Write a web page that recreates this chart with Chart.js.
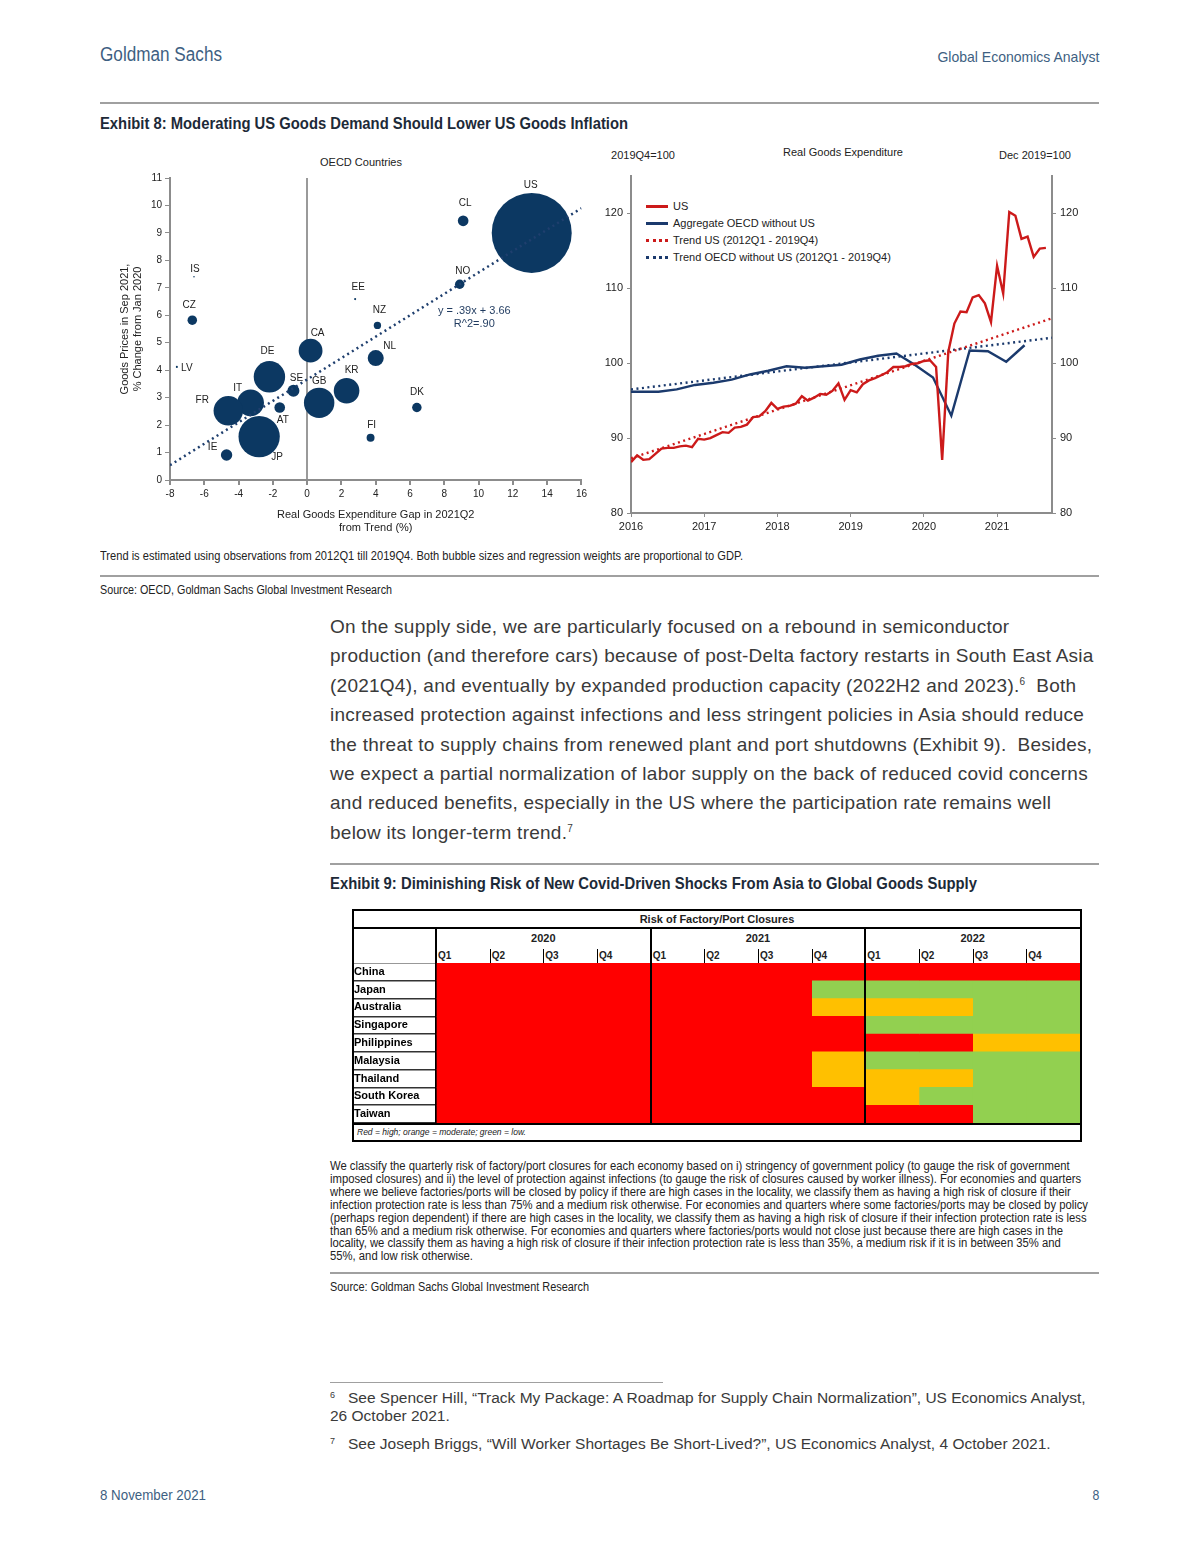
<!DOCTYPE html>
<html>
<head>
<meta charset="utf-8">
<script src="https://cdn.jsdelivr.net/npm/chart.js@4.4.1/dist/chart.umd.min.js"></script>
<style>
  body { margin: 0; background: #fff; font-family: "Liberation Sans", Arial, sans-serif; color: #222; }
  #page { position: relative; width: 1200px; height: 1555px; overflow: hidden; }
  .abs { position: absolute; white-space: nowrap; }
  .hr { position: absolute; height: 0; border-top: 2px solid #a0a0a0; }
  .body-text { font-size: 19px; letter-spacing: 0.25px; color: #3a3a3a; line-height: 29.4px; }
  .body-text sup { font-size: 10px; vertical-align: 7px; line-height: 0; }
  .note { font-size: 12.5px; line-height: 12.9px; color: #222; }
  .foot { font-size: 15.5px; color: #3a3a3a; line-height: 18px; }
  .foot sup { font-size: 9px; vertical-align: 5px; line-height: 0; }
  canvas { position: absolute; }
  .tbl-line { position: absolute; background: #000; }
</style>
</head>
<body>
<div id="page">
  <div class="abs" data-fit="122" style="left:100px;top:43px;font-size:20px;color:#3e5f82;">Goldman Sachs</div>
  <div class="abs" data-fit="162" data-origin="right" style="right:101px;top:48px;font-size:15px;color:#3e5f82;">Global Economics Analyst</div>
  <div class="hr" style="left:100px;top:102px;width:999px;"></div>
  <div class="abs" data-fit="528" style="left:100px;top:114px;font-size:17px;font-weight:bold;color:#1d2a38;">Exhibit 8: Moderating US Goods Demand Should Lower US Goods Inflation</div>

  <div class="abs" style="left:311px;top:156px;width:100px;text-align:center;font-size:11px;">OECD Countries</div>
  <div class="abs" style="left:593px;top:149px;width:100px;text-align:center;font-size:11px;">2019Q4=100</div>
  <div class="abs" style="left:743px;top:146px;width:200px;text-align:center;font-size:11px;">Real Goods Expenditure</div>
  <div class="abs" style="left:985px;top:149px;width:100px;text-align:center;font-size:11px;">Dec 2019=100</div>
  <div id="lineLegend"></div>

  <canvas id="bubbleChart" width="490" height="395" style="left:100px;top:140px;"></canvas>
  <canvas id="lineChart" width="500" height="397" style="left:590px;top:140px;"></canvas>

  <div class="abs" data-fit="643" style="left:100px;top:549px;font-size:12.5px;">Trend is estimated using observations from 2012Q1 till 2019Q4. Both bubble sizes and regression weights are proportional to GDP.</div>
  <div class="hr" style="left:100px;top:575px;width:999px;"></div>
  <div class="abs" data-fit="292" style="left:100px;top:583px;font-size:12.5px;">Source: OECD, Goldman Sachs Global Investment Research</div>

  <div class="abs body-text" style="left:330px;top:612px;">
    On the supply side, we are particularly focused on a rebound in semiconductor<br>
    production (and therefore cars) because of post-Delta factory restarts in South East Asia<br>
    (2021Q4), and eventually by expanded production capacity (2022H2 and 2023).<sup>6</sup>&nbsp; Both<br>
    increased protection against infections and less stringent policies in Asia should reduce<br>
    the threat to supply chains from renewed plant and port shutdowns (Exhibit 9).&nbsp; Besides,<br>
    we expect a partial normalization of labor supply on the back of reduced covid concerns<br>
    and reduced benefits, especially in the US where the participation rate remains well<br>
    below its longer-term trend.<sup>7</sup>
  </div>
  <div class="hr" style="left:330px;top:863px;width:769px;"></div>
  <div class="abs" data-fit="647" style="left:330px;top:874px;font-size:17px;font-weight:bold;color:#1d2a38;">Exhibit 9: Diminishing Risk of New Covid-Driven Shocks From Asia to Global Goods Supply</div>

  <div id="table" style="position:absolute;left:352px;top:909px;width:730px;height:233px;box-sizing:border-box;border:2px solid #000;"></div>
  <canvas id="riskChart" width="726" height="160" style="left:354px;top:963px;"></canvas>

  <div class="abs note" data-fit="758" style="left:330px;top:1160px;">
    We classify the quarterly risk of factory/port closures for each economy based on i) stringency of government policy (to gauge the risk of government<br>
    imposed closures) and ii) the level of protection against infections (to gauge the risk of closures caused by worker illness). For economies and quarters<br>
    where we believe factories/ports will be closed by policy if there are high cases in the locality, we classify them as having a high risk of closure if their<br>
    infection protection rate is less than 75% and a medium risk otherwise. For economies and quarters where some factories/ports may be closed by policy<br>
    (perhaps region dependent) if there are high cases in the locality, we classify them as having a high risk of closure if their infection protection rate is less<br>
    than 65% and a medium risk otherwise. For economies and quarters where factories/ports would not close just because there are high cases in the<br>
    locality, we classify them as having a high risk of closure if their infection protection rate is less than 35%, a medium risk if it is in between 35% and<br>
    55%, and low risk otherwise.
  </div>
  <div class="hr" style="left:330px;top:1272px;width:769px;"></div>
  <div class="abs" data-fit="259" style="left:330px;top:1280px;font-size:12.5px;">Source: Goldman Sachs Global Investment Research</div>

  <div class="hr" style="left:330px;top:1382px;width:333px;border-top-width:1px;"></div>
  <div class="abs foot" style="left:330px;top:1389px;"><sup>6</sup>&nbsp;&nbsp; See Spencer Hill, “Track My Package: A Roadmap for Supply Chain Normalization”, US Economics Analyst,<br>26 October 2021.</div>
  <div class="abs foot" style="left:330px;top:1435px;"><sup>7</sup>&nbsp;&nbsp; See Joseph Briggs, “Will Worker Shortages Be Short-Lived?”, US Economics Analyst, 4 October 2021.</div>

  <div class="abs" data-fit="106" style="left:100px;top:1486px;font-size:15px;color:#3e5f82;">8 November 2021</div>
  <div class="abs" style="right:101px;top:1486px;font-size:15px;color:#3e5f82;transform:scaleX(0.82);transform-origin:right center;">8</div>
</div>

<script>
// condensed house font: squeeze Arial to the widths of the original lines
document.querySelectorAll('[data-fit]').forEach(el => {
  const target = parseFloat(el.dataset.fit);
  const natural = el.getBoundingClientRect().width;
  el.style.transformOrigin = (el.dataset.origin || 'left') + ' center';
  el.style.transform = 'scaleX(' + (target / natural).toFixed(4) + ')';
});

// ---- Exhibit 8, left: OECD bubble chart ----
const bubbleCountries = ['US', 'CL', 'NO', 'EE', 'NZ', 'NL', 'CA', 'DE', 'SE', 'GB', 'KR', 'IT', 'FR', 'AT', 'JP', 'IE', 'FI', 'DK', 'CZ', 'IS', 'LV'];
const expenditureGap = [13.1, 9.1, 8.9, 2.8, 4.1, 4.0, 0.2, -2.2, -0.8, 0.7, 2.3, -3.3, -4.6, -1.6, -2.8, -4.7, 3.7, 6.4, -6.7, -6.6, -7.6];
const goodsPriceChange = [9.0, 9.44, 7.13, 6.59, 5.63, 4.44, 4.71, 3.76, 3.25, 2.81, 3.25, 2.81, 2.52, 2.64, 1.58, 0.91, 1.54, 2.64, 5.82, 7.4, 4.12];
const gdpWeight = [21.4, 0.38, 0.30, 0.015, 0.18, 0.86, 1.9, 3.3, 0.48, 3.1, 2.2, 2.4, 2.9, 0.38, 5.7, 0.43, 0.21, 0.30, 0.30, 0.008, 0.015];
const regressionLine = [[-8, 0.54], [16, 9.9]];

// ---- Exhibit 8, right: real goods expenditure ----
const usStart = 2016;   // monthly, Jan 2016 - Sep 2021
const usGoods = [86.8, 87.7, 87.1, 87.2, 87.9, 88.6, 88.7, 88.7, 88.9, 89.0, 88.8, 89.9,
                 89.8, 90.0, 90.4, 90.8, 90.7, 91.4, 91.5, 91.8, 92.8, 92.9, 93.6, 94.7,
                 93.9, 94.2, 94.3, 94.6, 95.6, 95.0, 95.4, 95.9, 95.8, 96.3, 97.3, 95.1,
                 96.4, 96.1, 97.2, 97.7, 98.0, 98.4, 98.8, 99.5, 99.5, 99.6, 99.9, 100.0,
                 100.3, 100.4, 99.5, 87.1, 101.5, 105.3, 106.9, 106.8, 108.8, 109.1, 108.0, 105.5,
                 113.0, 109.3, 120.2, 119.7, 116.6, 116.9, 114.2, 115.3, 115.4];
const oecdQuarters = ['2015Q4', '2016Q1', '2016Q2', '2016Q3', '2016Q4', '2017Q1', '2017Q2', '2017Q3', '2017Q4',
                      '2018Q1', '2018Q2', '2018Q3', '2018Q4', '2019Q1', '2019Q2', '2019Q3', '2019Q4',
                      '2020Q1', '2020Q2', '2020Q3', '2020Q4', '2021Q1', '2021Q2'];
const oecdGoods = [96.2, 96.2, 96.2, 96.5, 97.1, 97.4, 97.8, 98.5, 99.0, 99.6, 99.4, 99.6, 99.8,
                   100.5, 101.0, 101.3, 99.8, 98.1, 93.0, 101.7, 101.6, 100.2, 102.4];
const trendUS = [[2016, 87.3], [2021.75, 106.0]];
const trendOECD = [[2016, 96.5], [2021.75, 103.4]];
const yearTicks = [2016, 2017, 2018, 2019, 2020, 2021];
const indexTicks = [80, 90, 100, 110, 120];
const lineLabels = ['US', 'Aggregate OECD without US', 'Trend US (2012Q1 - 2019Q4)', 'Trend OECD without US (2012Q1 - 2019Q4)'];

// ---- Exhibit 9: risk of factory/port closures ----
const riskCountries = ['China', 'Japan', 'Australia', 'Singapore', 'Philippines', 'Malaysia', 'Thailand', 'South Korea', 'Taiwan'];
const riskYears = ['2020', '2021', '2022'];
const riskQuarters = ['Q1', 'Q2', 'Q3', 'Q4'];
// H = high, M = moderate, L = low; 2020Q1 .. 2022Q4
const riskLevels = [
  'HHHH HHHH HHHH',
  'HHHH HHHL LLLL',
  'HHHH HHHM MMLL',
  'HHHH HHHH LLLL',
  'HHHH HHHH HHMM',
  'HHHH HHHM LLLL',
  'HHHH HHHM MMLL',
  'HHHH HHHH MLLL',
  'HHHH HHHH HHLL'
];
const riskColors = { H: '#ff0000', M: '#ffc000', L: '#92d050' };

const NAVY = '#0c3862';
const RED = '#cc1a1a';
const BLUE = '#1b3a6d';
const AXIS = '#8c8c8c';

// bubble labels: offset of the label centre from the bubble centre, px
const labelOffsets = {
  US: [-1, -48], CL: [2, -18], NO: [3, -13], EE: [3, -12], NZ: [2, -15], NL: [14, -12], CA: [7, -17],
  DE: [-2, -26], SE: [3, -13], GB: [0, -22], KR: [5, -21], IT: [-13, -15], FR: [-26, -11], AT: [3, 13],
  JP: [18, 21], IE: [-14, -8], FI: [1, -12], DK: [0, -15], CZ: [-3, -15], IS: [1, -8], LV: [10, 1]
};

const bubbleLabels = {
  id: 'bubbleLabels',
  afterDatasetsDraw(chart) {
    const ctx = chart.ctx;
    const meta = chart.getDatasetMeta(0);
    ctx.save();
    ctx.font = '10px "Liberation Sans", Arial, sans-serif';
    ctx.fillStyle = '#222';
    ctx.textAlign = 'center';
    ctx.textBaseline = 'middle';
    meta.data.forEach((el, i) => {
      const off = labelOffsets[bubbleCountries[i]] || [0, -12];
      ctx.fillText(bubbleCountries[i], el.x + off[0], el.y + off[1]);
    });
    // regression equation
    const xs = chart.scales.x, ys = chart.scales.y;
    ctx.fillStyle = '#1f3a5f';
    ctx.font = '11px "Liberation Sans", Arial, sans-serif';
    ctx.fillText('y = .39x + 3.66', xs.getPixelForValue(9.75), ys.getPixelForValue(6.16));
    ctx.fillText('R^2=.90', xs.getPixelForValue(9.75), ys.getPixelForValue(5.7));
    ctx.restore();
  }
};

new Chart(document.getElementById('bubbleChart'), {
  type: 'bubble',
  data: {
    datasets: [{
      label: 'OECD',
      data: bubbleCountries.map((c, i) => ({ x: expenditureGap[i], y: goodsPriceChange[i], r: 40 * Math.sqrt(gdpWeight[i] / 21.4) })),
      backgroundColor: NAVY,
      borderWidth: 0,
      order: 2
    }, {
      type: 'line',
      label: 'Regression',
      data: regressionLine.map(p => ({ x: p[0], y: p[1] })),
      borderColor: '#1f3f6e',
      borderWidth: 2.5,
      borderDash: [2, 3.5],
      pointRadius: 0,
      fill: false,
      order: 1
    }]
  },
  options: {
    responsive: false,
    animation: false,
    layout: { autoPadding: false, padding: { top: 38, right: 7 } },
    plugins: { legend: { display: false }, tooltip: { enabled: false } },
    scales: {
      x: {
        type: 'linear', min: -8, max: 16,
        ticks: { stepSize: 2, color: '#222', font: { size: 10 }, padding: 3 },
        grid: {
          color: c => (c.tick && c.tick.value === 0 ? '#9a9a9a' : 'transparent'),
          lineWidth: 2, tickColor: AXIS, tickLength: 5
        },
        border: { color: AXIS, width: 2 },
        title: { display: true, text: ['Real Goods Expenditure Gap in 2021Q2', 'from Trend (%)'], color: '#222', font: { size: 11 }, padding: { top: 1, bottom: 0 } },
        afterFit: s => { s.height = 55; }
      },
      y: {
        type: 'linear', min: 0, max: 11,
        ticks: { stepSize: 1, color: '#222', font: { size: 10 }, padding: 3 },
        grid: { drawOnChartArea: false, tickColor: AXIS, tickLength: 5 },
        border: { color: AXIS, width: 2 },
        title: { display: true, text: ['Goods Prices in Sep 2021,', '% Change from Jan 2020'], color: '#222', font: { size: 11 }, padding: { top: 18, bottom: 2 } },
        afterFit: s => { s.width = 70; }
      }
    }
  },
  plugins: [bubbleLabels]
});

// ---- line chart ----
const usPoints = usGoods.map((v, i) => ({ x: usStart + i / 12, y: v }));
const oecdPoints = oecdQuarters.map((q, i) => {
  const yr = parseInt(q.slice(0, 4), 10), qn = parseInt(q.slice(5), 10);
  return { x: yr + (qn - 1) * 0.25 + 0.125, y: oecdGoods[i] };
});
const setTicks = vals => s => { s.ticks = vals.map(v => ({ value: v })); };

new Chart(document.getElementById('lineChart'), {
  type: 'line',
  data: {
    datasets: [
      { label: lineLabels[0], data: usPoints, borderColor: RED, borderWidth: 2.4, pointRadius: 0, tension: 0 },
      { label: lineLabels[1], data: oecdPoints, borderColor: BLUE, borderWidth: 2.4, pointRadius: 0, tension: 0 },
      { label: lineLabels[2], data: trendUS.map(p => ({ x: p[0], y: p[1] })), borderColor: RED, borderWidth: 2.4, borderDash: [2, 3.5], pointRadius: 0 },
      { label: lineLabels[3], data: trendOECD.map(p => ({ x: p[0], y: p[1] })), borderColor: BLUE, borderWidth: 2.4, borderDash: [2, 3.5], pointRadius: 0 }
    ]
  },
  options: {
    responsive: false,
    animation: false,
    layout: { autoPadding: false, padding: { top: 36 } },
    plugins: { legend: { display: false }, tooltip: { enabled: false } },
    scales: {
      x: {
        type: 'linear', min: 2016, max: 2021.75,
        afterBuildTicks: setTicks(yearTicks),
        ticks: { color: '#222', font: { size: 11 }, padding: 3, autoSkip: false, callback: v => String(v) },
        grid: { drawOnChartArea: false, tickColor: AXIS, tickLength: 4 },
        border: { color: AXIS, width: 2 },
        afterFit: s => { s.height = 24; }
      },
      y: {
        type: 'linear', min: 80, max: 125, position: 'left',
        afterBuildTicks: setTicks(indexTicks),
        ticks: { color: '#222', font: { size: 11 }, padding: 4 },
        grid: { drawOnChartArea: false, tickColor: AXIS, tickLength: 4 },
        border: { color: AXIS, width: 2 },
        afterFit: s => { s.width = 41; }
      },
      y2: {
        type: 'linear', min: 80, max: 125, position: 'right',
        afterBuildTicks: setTicks(indexTicks),
        ticks: { color: '#222', font: { size: 11 }, padding: 4 },
        grid: { drawOnChartArea: false, tickColor: AXIS, tickLength: 4 },
        border: { color: AXIS, width: 2 },
        afterFit: s => { s.width = 38; }
      }
    }
  }
});

// line chart legend, inside the plot area
const legendBox = document.getElementById('lineLegend');
const legendStyles = [[RED, 'solid'], [BLUE, 'solid'], [RED, 'dotted'], [BLUE, 'dotted']];
lineLabels.forEach((txt, i) => {
  const y = 206 + i * 17;
  const sw = document.createElement('div');
  sw.style.cssText = `position:absolute;left:646px;top:${y - 1.5}px;width:22px;height:0;border-top:3px ${legendStyles[i][1]} ${legendStyles[i][0]};`;
  legendBox.appendChild(sw);
  const tx = document.createElement('div');
  tx.className = 'abs';
  tx.style.cssText += `left:673px;top:${y - 7}px;font-size:11px;line-height:14px;color:#222;`;
  tx.textContent = txt;
  legendBox.appendChild(tx);
});

// ---- Exhibit 9 table frame (header + key) ----
const tbl = document.getElementById('table');
const colLeft = 436 - 354, colW = 644 / 12;   // inside-border coordinates
function add(css, text, cls) {
  const d = document.createElement('div');
  d.className = cls || 'abs';
  d.style.cssText += css;
  if (text) d.textContent = text;
  tbl.appendChild(d);
}
add('left:0;top:0;width:726px;text-align:center;font-size:11px;font-weight:bold;line-height:16px;', 'Risk of Factory/Port Closures');
add('left:0;top:16px;width:726px;height:2px;', '', 'tbl-line');
add(`left:${colLeft - 1}px;top:18px;width:2px;height:36px;`, '', 'tbl-line');
riskYears.forEach((yr, y) => {
  add(`left:${colLeft + y * 4 * colW}px;top:20px;width:${4 * colW}px;text-align:center;font-size:11px;font-weight:bold;line-height:14px;`, yr);
  if (y > 0) add(`left:${colLeft + y * 4 * colW - 1}px;top:18px;width:2px;height:36px;`, '', 'tbl-line');
  riskQuarters.forEach((q, k) => {
    const x = colLeft + (y * 4 + k) * colW;
    if (k > 0) add(`left:${x}px;top:38px;width:1px;height:14px;`, '', 'tbl-line');
    add(`left:${x + 2}px;top:38px;font-size:10px;font-weight:bold;line-height:14px;`, q);
  });
});
add('left:0;top:212px;width:726px;height:2px;', '', 'tbl-line');
add('left:3px;top:215px;font-size:8.5px;font-style:italic;line-height:12px;', 'Red = high; orange = moderate; green = low.');

// ---- Exhibit 9 heatmap cells ----
const riskRows = riskLevels.map(s => s.replace(/ /g, ''));
const quarterSets = [];
riskYears.forEach(yr => riskQuarters.forEach(q => quarterSets.push(yr + q)));

new Chart(document.getElementById('riskChart'), {
  type: 'bar',
  data: {
    labels: riskCountries,
    datasets: quarterSets.map((qs, k) => ({
      label: qs,
      data: riskCountries.map(() => [k, k + 1]),
      backgroundColor: riskRows.map(r => riskColors[r[k]]),
      borderWidth: 0,
      barPercentage: 1,
      categoryPercentage: 1,
      grouped: false
    }))
  },
  options: {
    indexAxis: 'y',
    responsive: false,
    animation: false,
    layout: { autoPadding: false, padding: 0 },
    plugins: { legend: { display: false }, tooltip: { enabled: false } },
    scales: {
      x: {
        type: 'linear', min: 0, max: 12,
        ticks: { display: false, stepSize: 1 },
        grid: { color: c => (c.tick && (c.tick.value === 4 || c.tick.value === 8) ? '#000' : 'transparent'), lineWidth: 2, tickLength: 0, z: 1 },
        border: { display: false },
        afterFit: s => { s.height = 0; s.paddingLeft = 0; s.paddingRight = 0; }
      },
      y: {
        ticks: { color: '#000', font: { size: 11, weight: 'bold' }, crossAlign: 'far', padding: 0 },
        grid: { offset: true, drawOnChartArea: false, color: '#333', lineWidth: 1.5, tickLength: colLeft },
        border: { color: '#000', width: 2 },
        afterFit: s => { s.width = colLeft; s.paddingTop = 0; s.paddingBottom = 0; }
      }
    }
  }
});
</script>
</body>
</html>
